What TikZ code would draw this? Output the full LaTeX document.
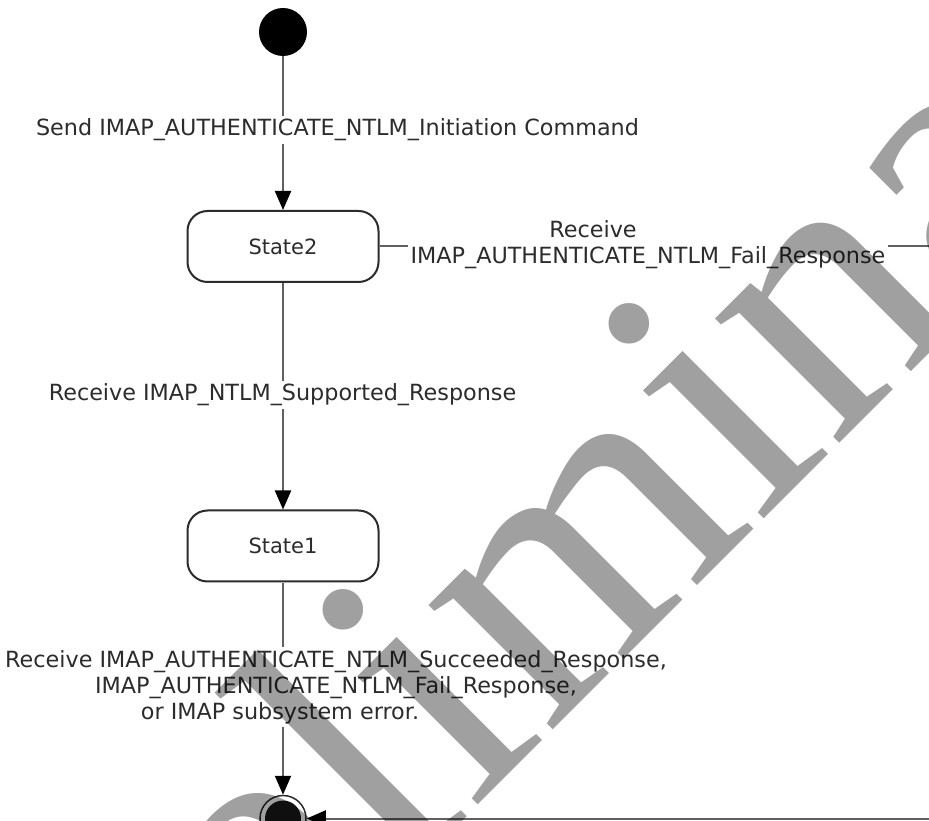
\documentclass[tikz,border=0pt]{standalone}
\usepackage{fontspec}
\setmainfont{DejaVu Sans}
\newfontfamily\wmfont{Liberation Serif}
\usetikzlibrary{arrows.meta}
\definecolor{linec}{HTML}{606060}
\definecolor{txtc}{HTML}{2C2C2C}
\definecolor{wmc}{HTML}{A0A0A0}
\begin{document}
\begin{tikzpicture}[x=1pt,y=1pt,
  lbl/.style={font=\fontsize{22.3}{26}\selectfont, text=txtc, fill=white, inner sep=3pt, align=center},
  statebox/.style={draw=txtc, line width=2pt, rounded corners=20pt, fill=white, minimum width=191pt, minimum height=71pt, font=\fontsize{21}{26}\selectfont, text=txtc},
  conn/.style={draw=linec, line width=2pt, -{Triangle[length=19pt,width=16pt,color=black]}},
  wmark/.style={font=\wmfont\fontsize{383}{400}\selectfont, text=wmc, rotate=45, anchor=base west, inner sep=0pt, outer sep=0pt}
]
\useasboundingbox (0,0) rectangle (929,820);
\clip (0,0) rectangle (929,820);
\fill[white] (0,0) rectangle (929,820);
% states
\node[circle, fill=black, minimum size=48pt, inner sep=0pt] (init) at (283,788) {};
\node[statebox] (s2) at (283,573.5) {State2};
\node[statebox] (s1) at (283,274) {State1};
\node[circle, draw=txtc, line width=1.5pt, fill=white, minimum size=46pt, inner sep=0pt] (fin) at (283,1.5) {};
\node[circle, fill=black!90, minimum size=36pt, inner sep=0pt] (finin) at (fin.center) {};
\coordinate (rt) at (960,573.5);
\coordinate (rb) at (960,1.5);
% connectors
\draw[conn] (init) -- (s2);
\draw[conn] (s2) -- (s1);
\draw[conn] (s1) -- (fin);
\draw[conn] (s2.east) -- (rt) -- (rb) -- (fin.east);
% labels
\node[lbl] (l1) at (337.5,690) {Send IMAP\_AUTHENTICATE\_NTLM\_Initiation Command};
\node[lbl] (l2) at (282.5,425) {Receive IMAP\_NTLM\_Supported\_Response};
\node[lbl] (l3) at (648,575) {Receive\hspace*{110pt}\\IMAP\_AUTHENTICATE\_NTLM\_Fail\_Response};
\node[lbl] (l4) at (336,133) {Receive IMAP\_AUTHENTICATE\_NTLM\_Succeeded\_Response,\\IMAP\_AUTHENTICATE\_NTLM\_Fail\_Response,\\or IMAP subsystem error.\hspace*{112pt}};
% watermark
\begin{scope}[blend mode=multiply]
\node[wmark] (wm) at (36,-427) {Preliminary};
\end{scope}
\end{tikzpicture}
\end{document}
